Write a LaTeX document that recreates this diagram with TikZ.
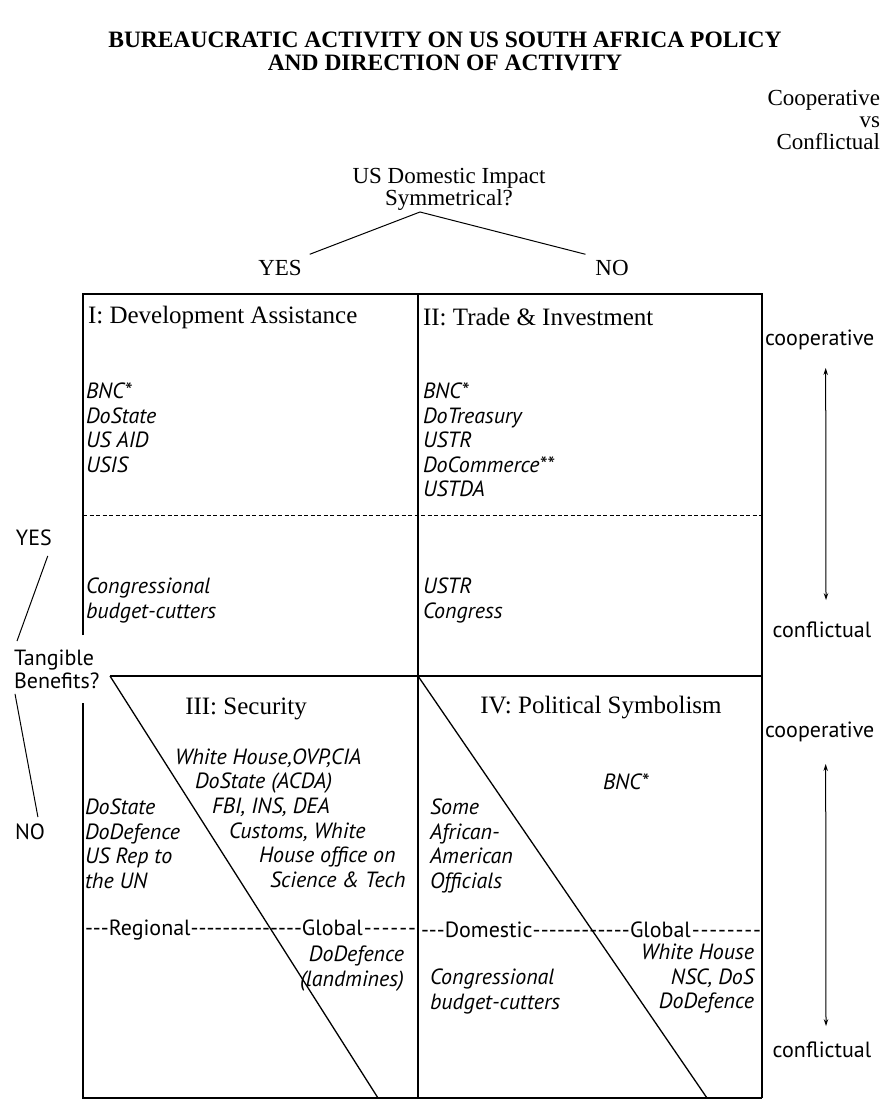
\documentclass[tikz,border=0pt]{standalone}
\usepackage{fontspec}
\setmainfont{PT Sans}
\newfontfamily\timesfont{Liberation Serif}
\usetikzlibrary{arrows.meta}

\newcommand{\dashfill}{\xleaders\hbox{-}\hfill}

\begin{document}
\begin{tikzpicture}[x=1pt,y=-1pt,line width=1.3pt,>={Stealth[length=7pt,width=4.5pt]},
  every node/.style={inner sep=0pt,outer sep=0pt},
  ttl/.style={font=\timesfont\bfseries\fontsize{23.5}{23}\selectfont,align=center},
  serif/.style={font=\timesfont\fontsize{23}{22}\selectfont},
  quad/.style={font=\timesfont\fontsize{25}{28}\selectfont},
  agency/.style={font=\itshape\fontsize{22}{24.5}\selectfont,align=left,anchor=north west},
  plain/.style={font=\fontsize{22}{23}\selectfont}]
\useasboundingbox (0,0) rectangle (883,1100);
% ---------- headings ----------
\node[ttl] (title) at (445,51) {BUREAUCRATIC ACTIVITY ON US SOUTH AFRICA POLICY\\AND DIRECTION OF ACTIVITY};
\node[serif,align=right,anchor=north east] (cvc) at (880,90) {Cooperative\\vs\\Conflictual};
% ---------- first split ----------
\node[serif,align=center] (impact) at (449,189) {US Domestic Impact\\Symmetrical?};
\coordinate (apex) at (420,212);
\node[serif] (yesT) at (280,268) {YES};
\node[serif] (noT) at (612,268) {NO};
\draw[line width=1pt] ([shift={(8,-6)}]yesT.north east) -- (apex) -- ([shift={(-10,-6)}]noT.north west);
% ---------- second split ----------
\node[plain,anchor=west] (yesL) at (16,538) {YES};
\node[plain,align=left,anchor=north west] (tang) at (14,650) {Tangible\\Benefits?};
\node[plain,anchor=west] (noL) at (15,832) {NO};
\draw[line width=1pt] ([shift={(-4,10)}]yesL.south east) -- ([shift={(3,-9)}]tang.north west);
\draw[line width=1pt] ([shift={(1,5)}]tang.south west) -- ([shift={(8,-7)}]noL.north);
% ---------- frame ----------
\coordinate (midL) at (110,676);
\draw (83,635) -- (83,294) -- (762,294) -- (762,1098);
\draw (83,703) -- (83,1098) -- (762,1098);
\draw (418,294) -- (418,1098);
\draw (midL) -- (762,676);
\draw[dashed,dash pattern=on 4pt off 2.5pt,line width=1pt] (83,515) -- (762,515);
\coordinate (endIII) at (378,1098);
\coordinate (endIV) at (707,1098);
\draw (midL) -- (endIII);
\draw (418,676) -- (endIV);
% ---------- I: development assistance ----------
\node[quad,anchor=west] (hdrI) at (88,317) {I: Development Assistance};
\node[agency] (agI) at (86,383) {BNC*\\DoState\\US AID\\USIS};
\node[agency] (cutI) at (86,578) {Congressional\\budget-cutters};
% ---------- II: trade & investment ----------
\node[quad,anchor=west] (hdrII) at (423,317) {II: Trade \& Investment};
\node[agency] (agII) at (423,383) {BNC*\\DoTreasury\\USTR\\DoCommerce**\\USTDA};
\node[agency] (cutII) at (423,578) {USTR\\Congress};
% ---------- III: security ----------
\node[quad] (hdrIII) at (246,709) {III: Security};
\node[agency,anchor=west] (sec1) at (175,758) {White House,OVP,CIA};
\node[agency,anchor=west] (sec2) at (195,783) {DoState (ACDA)};
\node[agency,anchor=west] (sec3) at (212,807) {FBI, INS, DEA};
\node[agency,anchor=west] (sec4) at (229,832) {Customs, White};
\node[agency,anchor=west] (sec5) at (259,857) {House office on};
\node[agency,anchor=west] (sec6) at (270,880) {Science \& Tech};
\node[agency] (secL) at (85,799) {DoState\\DoDefence\\US Rep to\\the UN};
\node[plain,anchor=west] (rowIII) at (85,930) {\hbox to 332pt{\hbox to 217pt{-{}-{}-Regional\dashfill}Global\dashfill}};
\node[agency,align=right,anchor=north east] (mines) at (404,946) {DoDefence\\(landmines)};
% ---------- IV: political symbolism ----------
\node[quad] (hdrIV) at (601,708) {IV: Political Symbolism};
\node[agency] (bncIV) at (603,774) {BNC*};
\node[agency] (symL) at (430,799) {Some\\African-\\American\\Officials};
\node[plain,anchor=west] (rowIV) at (421,930) {\hbox to 341pt{\hbox to 209pt{-{}-{}-Domestic\dashfill}Global\dashfill}};
\node[agency] (cutIV) at (430,969) {Congressional\\budget-cutters};
\node[agency,align=right,anchor=north east] (glbIV) at (754,944) {White House\\NSC, DoS\\DoDefence};
% ---------- direction of activity ----------
\node[plain,anchor=west] (coopU) at (765,340) {cooperative};
\node[plain] (conflU) at (822,630) {conflictual};
\node[plain,anchor=west] (coopD) at (765,732) {cooperative};
\node[plain] (conflD) at (822,1050) {conflictual};
\draw[<->,line width=1pt] ([shift={(6,18)}]coopU.south) -- ([shift={(4,-22)}]conflU.north);
\draw[<->,line width=1pt] ([shift={(6,22)}]coopD.south) -- ([shift={(4,-16)}]conflD.north);
\end{tikzpicture}
\end{document}
